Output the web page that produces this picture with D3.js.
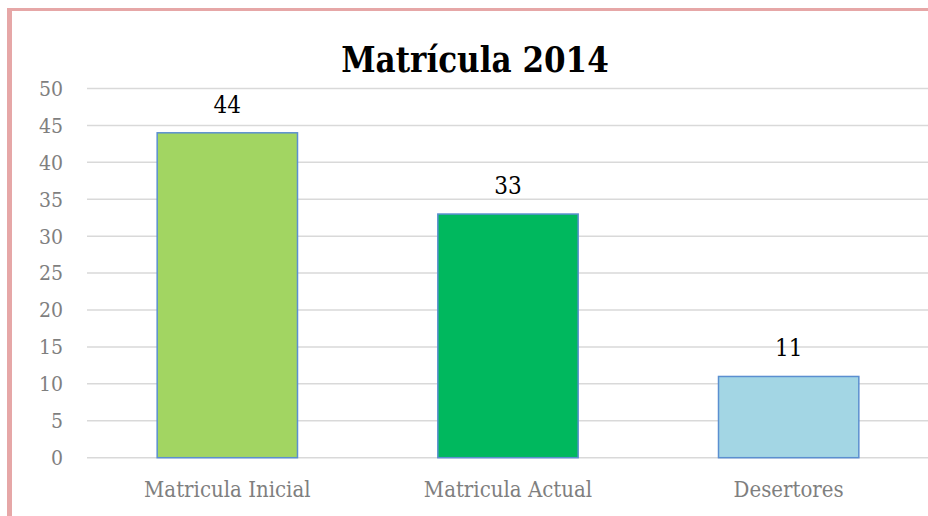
<!DOCTYPE html>
<html>
<head>
<meta charset="utf-8">
<script src="https://cdn.jsdelivr.net/npm/d3@7"></script>
<style>
  html, body { margin: 0; background: #fff; overflow: hidden; }
  svg { display: block; }
  svg text { font-family: "DejaVu Serif", serif; font-stretch: condensed; }
</style>
</head>
<body>
<svg id="chart" width="928" height="516"></svg>
<script>
// chart data
var categories = ['Matricula Inicial', 'Matricula Actual', 'Desertores'];
var values = [44, 33, 11];
var barColors = ['#a2d562', '#00b85e', '#a3d6e4'];
var yTicks = [0, 5, 10, 15, 20, 25, 30, 35, 40, 45, 50];
var title = 'Matrícula 2014';

var svg = d3.select('#chart');

// pink frame (left + top only are visible)
svg.append('rect').attr('x', 7).attr('y', 8).attr('width', 5).attr('height', 508).attr('fill', '#e6a7a7');
svg.append('rect').attr('x', 7).attr('y', 8).attr('width', 921).attr('height', 3).attr('fill', '#e6a7a7');

var x = d3.scaleBand().domain(categories).range([87, 929]).paddingInner(0.5).paddingOuter(0.25);
var y = d3.scaleLinear().domain([0, 50]).range([457.7, 88.5]);

// gridlines
svg.append('g')
    .selectAll('line')
    .data(yTicks)
    .enter()
    .append('line')
    .attr('x1', 87).attr('x2', 928)
    .attr('y1', function(d){ return y(d); })
    .attr('y2', function(d){ return y(d); })
    .attr('stroke', '#d9d9d9')
    .attr('stroke-width', 1.5);

// y tick labels
svg.append('g')
    .selectAll('text')
    .data(yTicks)
    .enter()
    .append('text')
    .attr('x', 63)
    .attr('y', function(d){ return y(d); })
    .attr('dy', '0.35em')
    .attr('text-anchor', 'end')
    .attr('fill', '#7f7f7f')
    .style('font-size', '21px')
    .text(function(d){ return d; });

// bars
svg.append('g')
    .selectAll('rect')
    .data(values)
    .enter()
    .append('rect')
    .attr('x', function(d, i){ return x(categories[i]); })
    .attr('y', function(d){ return y(d); })
    .attr('width', x.bandwidth())
    .attr('height', function(d){ return y(0) - y(d); })
    .attr('fill', function(d, i){ return barColors[i]; })
    .attr('stroke', '#5b8fd0')
    .attr('stroke-width', 1.5);

// value labels
svg.append('g')
    .selectAll('text')
    .data(values)
    .enter()
    .append('text')
    .attr('x', function(d, i){ return x(categories[i]) + x.bandwidth() / 2; })
    .attr('y', function(d){ return y(d) - 20; })
    .attr('text-anchor', 'middle')
    .attr('fill', '#000')
    .style('font-size', '24px')
    .text(function(d){ return d; });

// category labels
svg.append('g')
    .selectAll('text')
    .data(categories)
    .enter()
    .append('text')
    .attr('x', function(d){ return x(d) + x.bandwidth() / 2; })
    .attr('y', 497)
    .attr('text-anchor', 'middle')
    .attr('fill', '#7f7f7f')
    .style('font-size', '22px')
    .text(function(d){ return d; });

// title
svg.append('text')
    .attr('x', 475)
    .attr('y', 72)
    .attr('text-anchor', 'middle')
    .attr('fill', '#000')
    .style('font-size', '34.5px')
    .style('font-weight', 'bold')
    .text(title);
</script>
</body>
</html>
